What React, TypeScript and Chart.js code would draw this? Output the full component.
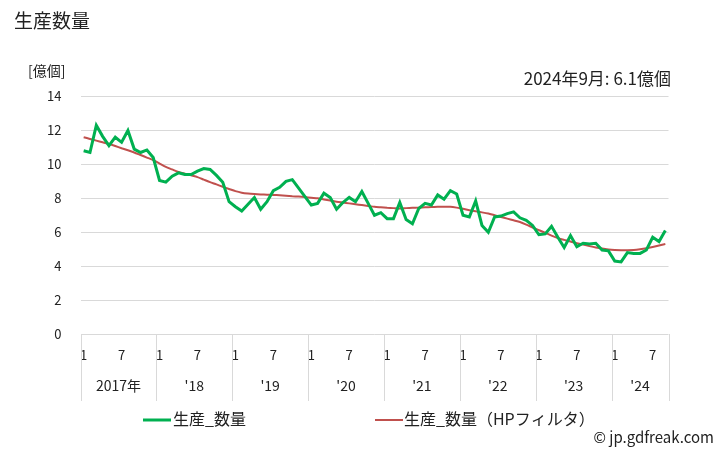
import React, { useEffect, useRef } from "react";
import { Chart, registerables } from "chart.js";

Chart.register(...registerables);

const months: string[] = [];
const years = [2017, 2018, 2019, 2020, 2021, 2022, 2023, 2024];
for (const y of years) {
  for (let m = 1; m <= 12; m++) {
    if (y === 2024 && m > 9) break;
    months.push(`${y}-${m}`);
  }
}

const yearLabels = ["2017年", "'18", "'19", "'20", "'21", "'22", "'23", "'24"];
const yearMonthCounts = [12, 12, 12, 12, 12, 12, 12, 9];

const production = [
  10.8, 10.7, 12.3, 11.65, 11.1, 11.6, 11.3, 12.0, 10.9, 10.7, 10.85, 10.4,
  9.05, 8.95, 9.3, 9.5, 9.4, 9.4, 9.6, 9.75, 9.7, 9.35, 8.95, 7.8,
  7.5, 7.25, 7.65, 8.05, 7.35, 7.8, 8.45, 8.65, 9.0, 9.1, 8.6, 8.1,
  7.6, 7.7, 8.3, 8.05, 7.35, 7.75, 8.05, 7.8, 8.4, 7.7, 7.0, 7.15,
  6.8, 6.8, 7.75, 6.75, 6.5, 7.4, 7.7, 7.6, 8.2, 7.95, 8.45, 8.25,
  7.0, 6.9, 7.85, 6.4, 6.0, 6.9, 6.95, 7.1, 7.2, 6.85, 6.7, 6.4,
  5.85, 5.9, 6.35, 5.7, 5.1, 5.8, 5.15, 5.35, 5.3, 5.35, 4.95, 4.9,
  4.3, 4.25, 4.8, 4.75, 4.75, 4.95, 5.7, 5.45, 6.1,
];

const hpFilter = [
  11.6, 11.5, 11.4, 11.3, 11.2, 11.08, 10.95, 10.83, 10.7, 10.55, 10.4, 10.25,
  10.05, 9.85, 9.7, 9.55, 9.45, 9.35, 9.25, 9.1, 8.95, 8.82, 8.68, 8.55,
  8.42, 8.33, 8.28, 8.25, 8.23, 8.21, 8.2, 8.18, 8.15, 8.12, 8.1, 8.07,
  8.03, 8.0, 7.93, 7.87, 7.8, 7.75, 7.7, 7.65, 7.6, 7.55, 7.5, 7.47,
  7.44, 7.42, 7.4, 7.42, 7.44, 7.45, 7.47, 7.48, 7.5, 7.5, 7.5, 7.45,
  7.38, 7.3, 7.23, 7.17, 7.1, 7.0, 6.9, 6.8, 6.7, 6.6, 6.45, 6.28,
  6.12, 5.97, 5.8, 5.65, 5.55, 5.45, 5.35, 5.27, 5.18, 5.1, 5.04, 4.98,
  4.95, 4.94, 4.94, 4.95, 4.99, 5.05, 5.13, 5.22, 5.3,
];

const FONT = "'Noto Sans CJK JP', 'Noto Sans', sans-serif";
const GREEN = "#00b050";
const RED = "#c0504d";
const GRID = "#d9d9d9";
const TEXT = "#222";

const overlay = {
  id: "overlay",
  afterDraw(chart: any) {
    const ctx = chart.ctx;
    const area = chart.chartArea;
    const per = (area.right - area.left) / months.length;
    ctx.save();
    // separators
    ctx.strokeStyle = GRID;
    ctx.lineWidth = 1;
    let idx = 0;
    const bounds = [0];
    for (const c of yearMonthCounts) {
      idx += c;
      bounds.push(idx);
    }
    for (const b of bounds) {
      const x = Math.round(area.left + b * per) + 0.5;
      ctx.beginPath();
      ctx.moveTo(x, area.bottom);
      ctx.lineTo(x, 401);
      ctx.stroke();
    }
    // year labels
    ctx.fillStyle = TEXT;
    ctx.font = `14px ${FONT}`;
    ctx.textAlign = "center";
    ctx.textBaseline = "middle";
    for (let i = 0; i < yearLabels.length; i++) {
      const cx = area.left + ((bounds[i] + bounds[i + 1]) / 2) * per;
      ctx.fillText(yearLabels[i], cx, 386);
    }
    // title
    ctx.textAlign = "left";
    ctx.font = `19px ${FONT}`;
    ctx.fillText("生産数量", 14, 21);
    // unit
    ctx.font = `14px ${FONT}`;
    ctx.fillText("[億個]", 28, 71);
    // annotation
    ctx.textAlign = "right";
    ctx.font = `17px ${FONT}`;
    ctx.fillText("2024年9月: 6.1億個", 671, 79);
    // legend
    ctx.textAlign = "left";
    ctx.font = `16px ${FONT}`;
    ctx.lineWidth = 3;
    ctx.strokeStyle = GREEN;
    ctx.beginPath();
    ctx.moveTo(143, 420);
    ctx.lineTo(171, 420);
    ctx.stroke();
    ctx.fillText("生産_数量", 173, 419);
    ctx.lineWidth = 2;
    ctx.strokeStyle = RED;
    ctx.beginPath();
    ctx.moveTo(375, 420);
    ctx.lineTo(403, 420);
    ctx.stroke();
    ctx.fillText("生産_数量（HPフィルタ）", 404, 419);
    // copyright
    ctx.textAlign = "right";
    ctx.font = `15px ${FONT}`;
    ctx.fillText("© jp.gdfreak.com", 714, 437);
    ctx.restore();
  },
};

export default function App() {
  const ref = useRef<HTMLCanvasElement | null>(null);
  useEffect(() => {
    if (!ref.current) return;
    const chart = new Chart(ref.current, {
      type: "line",
      data: {
        labels: months,
        datasets: [
          {
            label: "生産_数量",
            data: production,
            borderColor: GREEN,
            backgroundColor: GREEN,
            borderWidth: 3,
            pointRadius: 0,
            tension: 0,
          },
          {
            label: "生産_数量（HPフィルタ）",
            data: hpFilter,
            borderColor: RED,
            backgroundColor: RED,
            borderWidth: 2,
            pointRadius: 0,
            tension: 0.2,
          },
        ],
      },
      options: {
        responsive: false,
        animation: false,
        layout: { padding: { left: 0, right: 59.5, top: 96.5, bottom: 0 } },
        plugins: {
          legend: { display: false },
          title: { display: false },
          tooltip: { enabled: false },
        },
        scales: {
          x: {
            type: "category",
            offset: true,
            grid: { display: false },
            border: { display: false },
            ticks: {
              autoSkip: false,
              maxRotation: 0,
              minRotation: 0,
              padding: 5,
              color: TEXT,
              font: { size: 13, family: FONT },
              callback: (_v: any, i: number) =>
                i % 12 === 0 ? "1" : i % 12 === 6 ? "7" : "",
            },
            afterFit: (s: any) => {
              s.height = 116;
            },
          },
          y: {
            min: 0,
            max: 14,
            grid: { color: GRID, drawTicks: false },
            border: { display: false },
            ticks: {
              stepSize: 2,
              padding: 19,
              color: TEXT,
              font: { size: 13, family: FONT },
            },
            afterFit: (s: any) => {
              s.width = 80.5;
            },
          },
        },
      },
      plugins: [overlay],
    });
    return () => chart.destroy();
  }, []);
  return (
    <div style={{ position: "absolute", left: 0, top: 0, width: 728, height: 450, background: "#fff" }}>
      <canvas ref={ref} width={728} height={450} style={{ width: 728, height: 450 }} />
    </div>
  );
}
